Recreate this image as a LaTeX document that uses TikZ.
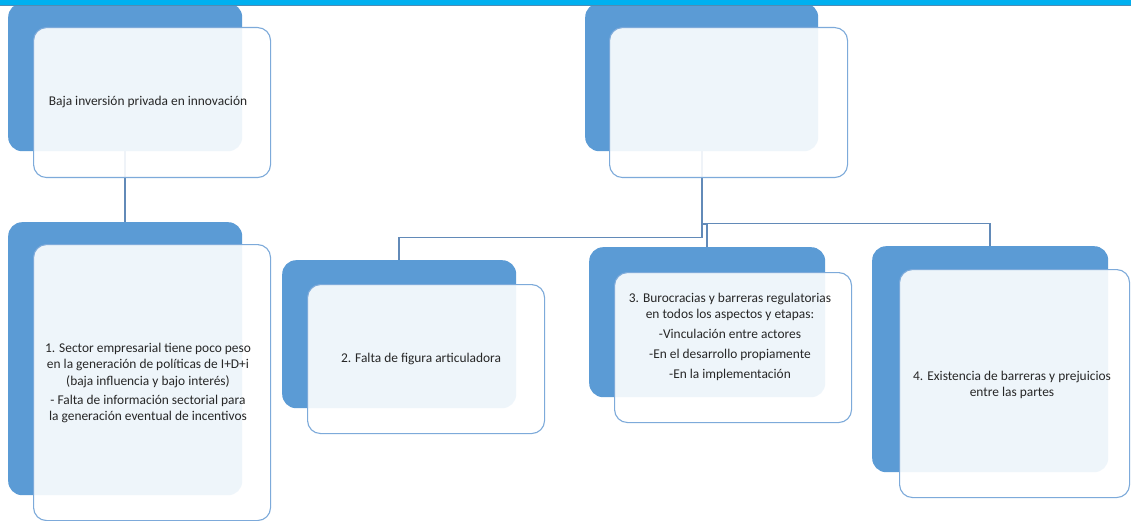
\documentclass[tikz,border=0pt]{standalone}
\usepackage{fontspec}
\setmainfont{Carlito}
\definecolor{darkfill}{RGB}{91,155,213}
\definecolor{lightedge}{RGB}{125,170,218}
\definecolor{linkcol}{RGB}{98,138,184}
\definecolor{barcol}{RGB}{0,176,240}
\definecolor{barline}{RGB}{80,140,180}
\definecolor{txt}{RGB}{38,38,38}
\tikzset{
  darkbox/.style={draw=none, fill=darkfill, rounded corners=14pt, anchor=north west, inner sep=0pt},
  lightbox/.style={draw=lightedge, line width=1.1pt, fill=white, fill opacity=0.9, rounded corners=13pt, anchor=north west, inner sep=0pt},
  link/.style={draw=linkcol, line width=1.6pt},
  lbl/.style={text=txt, font=\fontsize{13.4}{16.2}\selectfont, align=center, inner sep=0pt}
}
\begin{document}
\begin{tikzpicture}[x=1pt,y=-1pt]
\useasboundingbox (0,0) rectangle (1131,521);
\fill[white] (0,0) rectangle (1131,521);
% dark back boxes
\node[darkbox, minimum width=234pt, minimum height=148pt] (Ad) at (8,3) {};
\node[darkbox, minimum width=233pt, minimum height=148pt] (Bd) at (585,3) {};
\node[darkbox, minimum width=234pt, minimum height=273pt] (d1) at (8,222) {};
\node[darkbox, minimum width=234pt, minimum height=148pt] (d2) at (282,260) {};
\node[darkbox, minimum width=236pt, minimum height=150pt] (d3) at (589,247) {};
\node[darkbox, minimum width=236pt, minimum height=226pt] (d4) at (872,246) {};
% connectors
\draw[link] (Ad.south) -- (d1.north);
\draw[link] (Bd.south) -- ([yshift=-86pt]Bd.south) -| (d2.north);
\draw[link] (Bd.south) -- ([yshift=-73pt]Bd.south) -| (d3.north);
\draw[link] (Bd.south) -- ([yshift=-72pt]Bd.south) -| (d4.north);
% light front boxes
\node[lightbox, minimum width=237pt, minimum height=150pt] (Al) at (33,27) {};
\node[lightbox, minimum width=238pt, minimum height=150pt] (Bl) at (609,27) {};
\node[lightbox, minimum width=237pt, minimum height=276pt] (l1) at (33,244) {};
\node[lightbox, minimum width=237pt, minimum height=149pt] (l2) at (307,284) {};
\node[lightbox, minimum width=237pt, minimum height=150pt] (l3) at (614,272) {};
\node[lightbox, minimum width=230pt, minimum height=228pt] (l4) at (899,269) {};
% top bar
\fill[barcol] (0,0) rectangle (1131,5);
\draw[barline, line width=1pt] (0,5.5) -- (1131,5.5);
% texts
\node[lbl] (tA) at (148,102) {Baja inversión privada en innovación};
\node[lbl] (t1) at (148,383) {1. Sector empresarial tiene poco peso\\ en la generación de políticas de I+D+i\\ (baja influencia y bajo interés)\\[3pt] - Falta de información sectorial para\\ la generación eventual de incentivos};
\node[lbl] (t2) at (421,359) {2. Falta de figura articuladora};
\node[lbl] (t3) at (730,337) {3. Burocracias y barreras regulatorias\\ en todos los aspectos y etapas:\\[4pt] -Vinculación entre actores\\[4pt] -En el desarrollo propiamente\\[4pt] -En la implementación};
\node[lbl] (t4) at (1012,385) {4. Existencia de barreras y prejuicios\\ entre las partes};
\end{tikzpicture}
\end{document}
